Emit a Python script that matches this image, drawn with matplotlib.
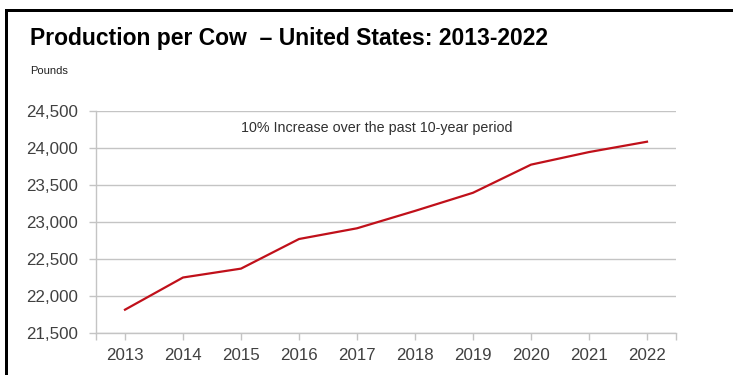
import matplotlib
matplotlib.use('Agg')
import matplotlib.pyplot as plt
from matplotlib.patches import Rectangle

plt.rcParams['font.family'] = ['Liberation Sans', 'DejaVu Sans']

years = ['2013', '2014', '2015', '2016', '2017', '2018', '2019', '2020', '2021', '2022']
pounds = [21815, 22250, 22370, 22770, 22915, 23150, 23395, 23775, 23945, 24085]
yticks = [21500, 22000, 22500, 23000, 23500, 24000, 24500]

fig = plt.figure(figsize=(7.33, 3.75), dpi=100)
fig.patch.set_facecolor('white')

# frame around the chart, cut off on right and bottom by the screenshot
# drawn as two thin filled bars (top and left)
fig.add_artist(Rectangle((5/733, 1-11.5/375), 1, 2.5/375, transform=fig.transFigure,
                         facecolor='black', edgecolor='none'))
fig.add_artist(Rectangle((5/733, -0.05), 2.5/733, 1-11.5/375+0.05+2.5/375,
                         transform=fig.transFigure, facecolor='black', edgecolor='none'))

fig.text(30/733, 1-38/375, 'Production per Cow  \u2013 United States: 2013-2022',
         fontsize=16.45, fontweight='bold', color='black', va='center', ha='left')
fig.text(30/733, 1-71/375, 'Pounds', fontsize=8, color='#222222', va='center', ha='left')

ax = fig.add_axes([96/733, 1-333/375, 580/733, 222/375])
x = list(range(len(years)))
ax.plot(x, pounds, color='#C0101A', linewidth=1.6)

ax.set_xlim(-0.5, len(years) - 0.5)
ax.set_ylim(21500, 24500)
ax.set_yticks(yticks)
ax.set_yticklabels(['{:,}'.format(v) for v in yticks])
ax.set_xticks(x)
ax.set_xticklabels(years)
ax.set_xticks([-0.5, len(years) - 0.5], minor=True)

ax.grid(axis='y', color='#c4c4c4', linewidth=1)
ax.set_axisbelow(True)
for s in ['top', 'right']:
    ax.spines[s].set_visible(False)
for s in ['left', 'bottom']:
    ax.spines[s].set_color('#c4c4c4')
    ax.spines[s].set_linewidth(1)

ax.tick_params(axis='both', which='both', colors='#c4c4c4', length=5, width=1,
               labelcolor='#404040', labelsize=12.2)
ax.tick_params(axis='x', pad=6)
ax.tick_params(axis='y', pad=8)

ax.text(0.484, 0.925, '10% Increase over the past 10-year period', transform=ax.transAxes,
        fontsize=10.25, color='#303030', ha='center', va='center')

fig.savefig('out.png', dpi=100)
